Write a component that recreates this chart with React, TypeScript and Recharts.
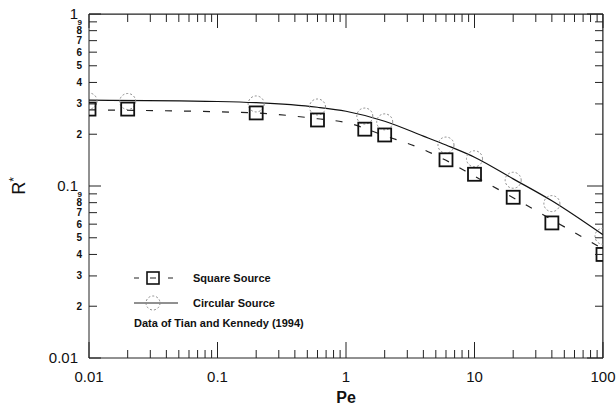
import React from 'react';
import { ComposedChart, Legend, Line, ReferenceLine, Scatter, XAxis, YAxis } from 'recharts';

const FONT = '"Liberation Sans", Arial, Helvetica, sans-serif';

const W = 616;
const H = 408;
const MARGIN = { top: 14, right: 13, bottom: 8, left: 29 };
const Y_AXIS_W = 60;
const X_AXIS_H = 42;
const PLOT_TOP = MARGIN.top;
const PLOT_RIGHT = W - MARGIN.right;
const PLOT_LEFT = MARGIN.left + Y_AXIS_W;
const PLOT_BOTTOM = H - MARGIN.bottom - X_AXIS_H;

// tick values (log axes)
const peTicks = [
  0.01, 0.02, 0.03, 0.04, 0.05, 0.06, 0.07, 0.08, 0.09,
  0.1, 0.2, 0.3, 0.4, 0.5, 0.6, 0.7, 0.8, 0.9,
  1, 2, 3, 4, 5, 6, 7, 8, 9,
  10, 20, 30, 40, 50, 60, 70, 80, 90, 100,
];
const rTicks = [
  0.01, 0.02, 0.03, 0.04, 0.05, 0.06, 0.07, 0.08, 0.09,
  0.1, 0.2, 0.3, 0.4, 0.5, 0.6, 0.7, 0.8, 0.9, 1,
];
const peMajor = [0.01, 0.1, 1, 10, 100];
const rMajor = [0.01, 0.1, 1];

// data of Tian and Kennedy (1994)
const pePoints = [0.01, 0.02, 0.2, 0.6, 1.4, 2, 6, 10, 20, 40, 100];
const squareR = [0.28, 0.28, 0.266, 0.242, 0.214, 0.198, 0.142, 0.117, 0.086, 0.061, 0.04];
const circleR = [0.312, 0.31, 0.3, 0.288, 0.255, 0.236, 0.173, 0.144, 0.108, 0.079, 0.051];

// model curves
const peModel = [0.01, 0.1, 0.2, 0.6, 1, 2, 4, 6, 10, 20, 40, 100];
const squareModelR = [0.277, 0.27, 0.266, 0.246, 0.234, 0.196, 0.163, 0.141, 0.114, 0.0855, 0.0637, 0.043];
const circleModelR = [0.316, 0.31, 0.305, 0.287, 0.272, 0.238, 0.195, 0.173, 0.147, 0.11, 0.082, 0.052];

// upper-right corner of the frame (axis maxima)
const frameCorner = [{ pe: 100, r: 1 }];

const toRows = (xs: number[], ys: number[]) => xs.map((pe, i) => ({ pe, r: ys[i] }));

const squarePts = toRows(pePoints, squareR);
const circlePts = toRows(pePoints, circleR);
const squareModel = toRows(peModel, squareModelR);
const circleModel = toRows(peModel, circleModelR);

const minorDigit = (v: number) => Math.round(v / Math.pow(10, Math.floor(Math.log10(v) + 1e-9)));

// bottom axis tick, plus the matching inward tick on the top frame
const BottomTick = (props: any) => {
  const { x, y, payload } = props;
  const major = peMajor.includes(payload.value);
  return (
    <g>
      <line x1={x} y1={y} x2={x} y2={y - (major ? 16 : 8)} stroke="#222" />
      <line x1={x} y1={PLOT_TOP} x2={x} y2={PLOT_TOP + (major ? 14 : 8)} stroke="#222" />
      {major && (
        <text x={x} y={y + 24} textAnchor="middle" fontSize={15} fontFamily={FONT} fill="#111">
          {payload.value}
        </text>
      )}
    </g>
  );
};

// left axis tick, plus the matching inward tick on the right frame
const LeftTick = (props: any) => {
  const { x, y, payload } = props;
  const v = payload.value;
  const major = rMajor.includes(v);
  return (
    <g>
      <line x1={x} y1={y} x2={x + (major ? 12 : 8)} y2={y} stroke="#222" />
      <line x1={PLOT_RIGHT} y1={y} x2={PLOT_RIGHT - (major ? 16 : 8)} y2={y} stroke="#222" />
      {major ? (
        <text x={x - 11} y={y + 5} textAnchor="end" fontSize={15} fontFamily={FONT} fill="#111">
          {v}
        </text>
      ) : (
        <text x={x - 7} y={y + 3.5} textAnchor="end" fontSize={v === 0.9 || v === 0.09 ? 8 : 10} fontWeight="bold" fontFamily={FONT} fill="#111">
          {minorDigit(v)}
        </text>
      )}
    </g>
  );
};

const SquareMark = (props: any) => {
  const { cx, cy } = props;
  return <rect x={cx - 6.5} y={cy - 6.5} width={13} height={13} fill="none" stroke="#111" strokeWidth={1.8} />;
};

const CircleMark = (props: any) => {
  const { cx, cy } = props;
  return <circle cx={cx} cy={cy} r={8} fill="none" stroke="#8a8a8a" strokeDasharray="2 2" />;
};

// draws the top and right frame edges from the (100, 1) corner
const FrameCorner = (props: any) => {
  const { cx, cy } = props;
  return <path d={`M${PLOT_LEFT},${cy}H${cx}V${PLOT_BOTTOM}`} fill="none" stroke="#222" strokeWidth={1} />;
};

const RLabel = (props: any) => {
  const vb = props.viewBox;
  const cy = vb.y + vb.height / 2;
  return (
    <text transform={`translate(25,${cy}) rotate(-90)`} textAnchor="middle" fontSize={18} fontFamily={FONT} fill="#111">
      R<tspan dy={-7} fontSize={12}>*</tspan>
    </text>
  );
};

const LegendBox = () => (
  <svg width={220} height={70} style={{ display: 'block' }}>
    <line x1={9} y1={13} x2={14} y2={13} stroke="#222" />
    <line x1={43} y1={13} x2={48} y2={13} stroke="#222" />
    <line x1={25} y1={13} x2={31} y2={13} stroke="#222" />
    <rect x={22} y={7} width={12} height={12} fill="none" stroke="#111" strokeWidth={1.6} />
    <text x={68} y={17} fontSize={11} fontWeight="bold" fontFamily={FONT} fill="#111">Square Source</text>
    <line x1={9} y1={38} x2={53} y2={38} stroke="#222" />
    <circle cx={28} cy={38} r={7} fill="none" stroke="#8a8a8a" strokeDasharray="2 2" />
    <text x={68} y={42} fontSize={11} fontWeight="bold" fontFamily={FONT} fill="#111">Circular Source</text>
    <text x={9} y={62} fontSize={11} fontWeight="bold" fontFamily={FONT} fill="#111">Data of Tian and Kennedy (1994)</text>
  </svg>
);

export default function App() {
  return (
    <div style={{ position: 'absolute', left: 0, top: 0, background: '#fff' }}>
      <ComposedChart width={W} height={H} margin={MARGIN}>
        <XAxis
          dataKey="pe"
          type="number"
          scale="log"
          domain={[0.01, 100]}
          allowDataOverflow
          ticks={peTicks}
          interval={0}
          tick={<BottomTick />}
          tickLine={false}
          tickSize={0}
          tickMargin={0}
          axisLine={{ stroke: '#222' }}
          height={X_AXIS_H}
          label={{ value: 'Pe', position: 'insideBottom', offset: -3, fontSize: 16, fontWeight: 'bold', fill: '#111', fontFamily: FONT }}
        />
        <YAxis
          dataKey="r"
          type="number"
          scale="log"
          domain={[0.01, 1]}
          allowDataOverflow
          ticks={rTicks}
          interval={0}
          tick={<LeftTick />}
          tickLine={false}
          tickSize={0}
          tickMargin={0}
          axisLine={{ stroke: '#222' }}
          width={Y_AXIS_W}
          label={RLabel}
        />
        <ReferenceLine y={1} stroke="#222" ifOverflow="visible" />
        <ReferenceLine x={100} stroke="#222" ifOverflow="visible" />
        <Legend
          layout="horizontal"
          verticalAlign="middle"
          align="center"
          content={() => <LegendBox />}
          wrapperStyle={{ left: 125, top: 265, width: 220, height: 70 }}
        />
        <Line data={circleModel} dataKey="r" type="monotone" stroke="#111" strokeWidth={1.2} dot={false} activeDot={false} isAnimationActive={false} />
        <Line data={squareModel} dataKey="r" type="monotone" stroke="#222" strokeWidth={1.2} strokeDasharray="7 12" dot={false} activeDot={false} isAnimationActive={false} />
        <Scatter data={frameCorner} dataKey="r" shape={<FrameCorner />} isAnimationActive={false} />
        <Scatter data={circlePts} dataKey="r" shape={<CircleMark />} isAnimationActive={false} />
        <Scatter data={squarePts} dataKey="r" shape={<SquareMark />} isAnimationActive={false} />
      </ComposedChart>
    </div>
  );
}
